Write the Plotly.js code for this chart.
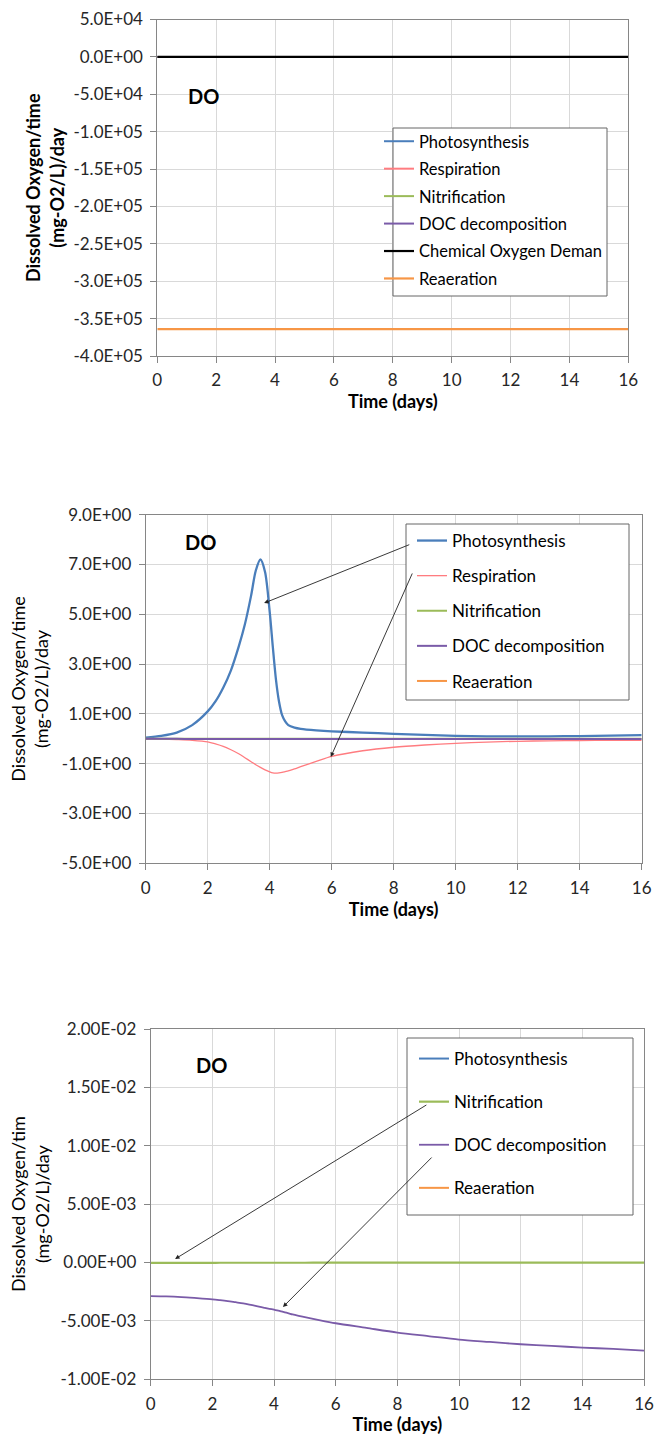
<!DOCTYPE html>
<html>
<head>
<meta charset="utf-8">
<script src="https://cdn.plot.ly/plotly-3.0.1.min.js"></script>
<style>html,body{margin:0;padding:0;background:#fff;}#chart{width:656px;height:1435px;}</style>
</head>
<body>
<div id="chart"></div>
<script>
// ---- data ----
var timeDays = [0, 0.5, 1, 1.5, 2, 2.25, 2.5, 2.75, 3, 3.2, 3.4, 3.55, 3.7, 3.85, 4, 4.1, 4.2, 4.3, 4.4, 4.5, 4.6, 4.8, 5, 5.5, 6, 7, 8, 9, 10, 11, 12, 13, 14, 15, 16];
var photosynthesis = [0.05, 0.12, 0.25, 0.55, 1.1, 1.5, 2.05, 2.75, 3.7, 4.6, 5.75, 6.75, 7.2, 6.7, 5.1, 3.7, 2.4, 1.5, 0.95, 0.7, 0.55, 0.45, 0.4, 0.34, 0.3, 0.25, 0.2, 0.16, 0.12, 0.1, 0.1, 0.1, 0.11, 0.13, 0.15];
var respiration = [0, -0.01, -0.03, -0.06, -0.12, -0.2, -0.3, -0.44, -0.6, -0.76, -0.92, -1.04, -1.15, -1.25, -1.33, -1.37, -1.38, -1.37, -1.35, -1.32, -1.29, -1.21, -1.12, -0.91, -0.71, -0.48, -0.34, -0.25, -0.18, -0.13, -0.1, -0.08, -0.07, -0.06, -0.06];
var nitrification = [-0.00003, -0.00003, -0.00003, -0.00003, -0.00003, -0.00002, -0.00002, -0.00002, -0.00002, -0.00002, -0.00002, -0.00002, -0.00002, -0.00002, -0.00002, -0.00002, -0.00002, -0.00002, -0.00002, -0.00002, -0.00002, -0.00002, -0.00002, -0.00001, -0.00001, -0.00001, -0.00001, -0.00001, -0.00001, -0.00001, -0.00001, -0.00001, -0.00001, -0.00001, -0.00001];
var docDecomposition = [-0.00287, -0.0029, -0.00296, -0.00305, -0.00315, -0.00322, -0.0033, -0.0034, -0.0035, -0.0036, -0.00371, -0.0038, -0.00388, -0.00396, -0.00404, -0.0041, -0.00416, -0.00423, -0.0043, -0.00437, -0.00444, -0.00456, -0.00467, -0.00495, -0.0052, -0.0056, -0.006, -0.0063, -0.0066, -0.0068, -0.007, -0.00714, -0.00728, -0.0074, -0.00755];
var chemicalOxygenDemand = [0, 0, 0, 0, 0, 0, 0, 0, 0, 0, 0, 0, 0, 0, 0, 0, 0, 0, 0, 0, 0, 0, 0, 0, 0, 0, 0, 0, 0, 0, 0, 0, 0, 0, 0];
var reaeration = [-364000, -364000, -364000, -364000, -364000, -364000, -364000, -364000, -364000, -364000, -364000, -364000, -364000, -364000, -364000, -364000, -364000, -364000, -364000, -364000, -364000, -364000, -364000, -364000, -364000, -364000, -364000, -364000, -364000, -364000, -364000, -364000, -364000, -364000, -364000];

var xTickVals = [0, 2, 4, 6, 8, 10, 12, 14, 16];
var y1TickVals = [50000, 0, -50000, -100000, -150000, -200000, -250000, -300000, -350000, -400000];
var y1TickText = ["5.0E+04", "0.0E+00", "-5.0E+04", "-1.0E+05", "-1.5E+05", "-2.0E+05", "-2.5E+05", "-3.0E+05", "-3.5E+05", "-4.0E+05"];
var y2TickVals = [9, 7, 5, 3, 1, -1, -3, -5];
var y2TickText = ["9.0E+00", "7.0E+00", "5.0E+00", "3.0E+00", "1.0E+00", "-1.0E+00", "-3.0E+00", "-5.0E+00"];
var y3TickVals = [0.02, 0.015, 0.01, 0.005, 0, -0.005, -0.01];
var y3TickText = ["2.00E-02", "1.50E-02", "1.00E-02", "5.00E-03", "0.00E+00", "-5.00E-03", "-1.00E-02"];

var seriesNames = ["Photosynthesis", "Respiration", "Nitrification", "DOC decomposition", "Chemical Oxygen Deman", "Reaeration"];
var seriesColors = ["#4A7EBB", "#FF7C80", "#9BBB59", "#7A5BA8", "#000000", "#F79646"];

// ---- build ----
var seriesData = [photosynthesis, respiration, nitrification, docDecomposition, chemicalOxygenDemand, reaeration];
var panels = [
  {xa: 'x', ya: 'y', legend: 'legend', show: [0, 1, 2, 3, 4, 5], widths: [2, 2, 2, 2, 2.2, 2.2]},
  {xa: 'x2', ya: 'y2', legend: 'legend2', show: [0, 1, 2, 3, 5], widths: [2.3, 1.3, 2, 2, 2, 2]},
  {xa: 'x3', ya: 'y3', legend: 'legend3', show: [0, 2, 3, 5], widths: [2, 1.3, 2.2, 1.8, 2, 2]}
];
var traces = [];
panels.forEach(function (p, pi) {
  p.show.forEach(function (si) {
    traces.push({
      type: 'scatter', mode: 'lines', x: timeDays, y: seriesData[si],
      name: seriesNames[si], xaxis: p.xa, yaxis: p.ya, legend: p.legend,
      legendgroup: 'p' + pi + '_' + si,
      line: {color: seriesColors[si], width: p.widths[si], shape: 'spline', smoothing: 0.8},
      cliponaxis: true, hoverinfo: 'skip'
    });
  });
});

var FONT = 'Lato, "Open Sans", sans-serif';
var W = 656, H = 1435;
function px(v) { return v / W; }
function py(v) { return 1 - v / H; }

function xAxis(d0, d1, anchor) {
  return {
    domain: [px(d0), px(d1)], anchor: anchor, range: [0, 16],
    tickvals: xTickVals, ticktext: xTickVals.map(String),
    showgrid: true, gridcolor: '#d9d9d9', gridwidth: 1,
    showline: true, linecolor: '#868686', linewidth: 1, mirror: true,
    ticks: 'outside', ticklen: 6, tickcolor: '#868686',
    tickfont: {family: FONT, size: 17, color: '#262626'},
    ticklabelstandoff: 3,
    zeroline: false, fixedrange: true,
    title: {text: '<b>Time (days)</b>', font: {family: FONT, size: 18, color: '#000'}, standoff: 0}
  };
}
function yAxis(d0, d1, anchor, range, tv, tt, title, bold, standoff) {
  return {
    domain: [py(d1), py(d0)], anchor: anchor, range: range,
    tickvals: tv, ticktext: tt,
    showgrid: true, gridcolor: '#d9d9d9', gridwidth: 1,
    showline: true, linecolor: '#868686', linewidth: 1, mirror: true,
    ticks: 'outside', ticklen: 6, tickcolor: '#868686',
    tickfont: {family: FONT, size: 17, color: '#262626'},
    ticklabelstandoff: 4,
    zeroline: false, fixedrange: true,
    title: {text: bold ? '<b>' + title + '</b>' : title, font: {family: FONT, size: 18, color: '#000'}, standoff: standoff}
  };
}
function legendBox(xl, yt, gap, fs) {
  return {
    x: px(xl), y: py(yt), xanchor: 'left', yanchor: 'top',
    bgcolor: 'rgba(0,0,0,0)', borderwidth: 0,
    font: {family: FONT, size: fs, color: '#000'},
    traceorder: 'grouped', tracegroupgap: gap, itemclick: false
  };
}
function frame(x0, y0, x1, y1) {
  return {type: 'rect', xref: 'paper', yref: 'paper', x0: px(x0), x1: px(x1), y0: py(y1), y1: py(y0),
    fillcolor: '#ffffff', line: {color: '#666666', width: 1}, layer: 'above'};
}
function doLabel(x, y) {
  return {xref: 'paper', yref: 'paper', x: px(x), y: py(y), xanchor: 'center', yanchor: 'middle',
    text: '<b>DO</b>', showarrow: false, font: {family: FONT, size: 20, color: '#000'}};
}
function arrow(xr, yr, hx, hy, tx, ty) {
  return {xref: xr, yref: yr, axref: xr, ayref: yr, x: hx, y: hy, ax: tx, ay: ty, text: '',
    showarrow: true, arrowhead: 2, arrowsize: 1, arrowwidth: 0.9, arrowcolor: '#222'};
}

var layout = {
  width: W, height: H, margin: {l: 0, r: 0, t: 0, b: 0},
  paper_bgcolor: '#ffffff', plot_bgcolor: '#ffffff',
  showlegend: true,
  xaxis: xAxis(157.3, 628.3, 'y'),
  yaxis: yAxis(19.5, 356, 'x', [-400000, 50000], y1TickVals, y1TickText, 'Dissolved Oxygen/time<br>(mg-O2/L)/day', true, 4),
  xaxis2: xAxis(145.7, 641.7, 'y2'),
  yaxis2: yAxis(514.7, 863.3, 'x2', [-5, 9], y2TickVals, y2TickText, 'Dissolved Oxygen/time<br>(mg-O2/L)/day', false, 8),
  xaxis3: xAxis(150.7, 644, 'y3'),
  yaxis3: yAxis(1029, 1379.3, 'x3', [-0.01, 0.02], y3TickVals, y3TickText, 'Dissolved Oxygen/tim<br>(mg-O2/L)/day', false, 6),
  legend: legendBox(379, 124, 3, 16.5),
  legend2: legendBox(412, 523, 10, 17),
  legend3: legendBox(414, 1041, 18, 17),
  shapes: [
    frame(393, 128, 607, 296),
    frame(406, 524, 629, 700),
    frame(407, 1038, 633, 1215)
  ],
  annotations: [
    doLabel(203, 96), doLabel(200.7, 542.3), doLabel(211.7, 1065),
    arrow('x2', 'y2', 3.82, 5.45, 8.55, 7.82),
    arrow('x2', 'y2', 5.97, -0.73, 8.62, 6.70),
    arrow('x3', 'y3', 0.79, 0.0003, 8.99, 0.01357),
    arrow('x3', 'y3', 4.29, -0.00381, 9.16, 0.00912)
  ]
};

Plotly.newPlot('chart', traces, layout, {displayModeBar: false, staticPlot: true});
</script>
</body>
</html>
